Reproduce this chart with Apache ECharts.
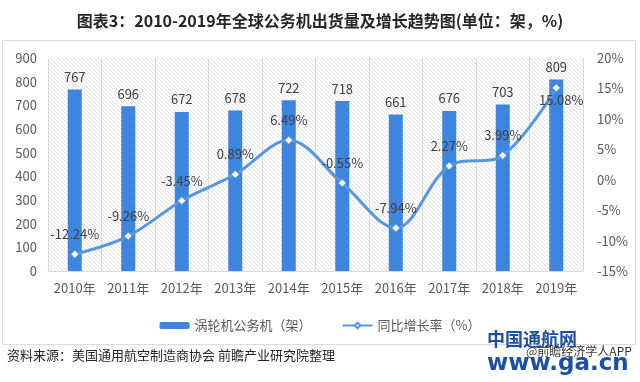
<!DOCTYPE html>
<html><head><meta charset="utf-8">
<script src="https://cdn.jsdelivr.net/npm/echarts@6/dist/echarts.min.js"></script>
<style>html,body{margin:0;padding:0;background:#fff}#c{width:640px;height:382px}</style>
</head><body><div id="c"></div>
<script>
const categories = ['2010年','2011年','2012年','2013年','2014年','2015年','2016年','2017年','2018年','2019年'];
const deliveries = [767, 696, 672, 678, 722, 718, 661, 676, 703, 809];
const growth = [-12.24, -9.26, -3.45, 0.89, 6.49, -0.55, -7.94, 2.27, 3.99, 15.08];
const leftTicks = [0, 900, 100];
const rightTicks = [-15, 20, 5];
const titleText = '图表3：2010-2019年全球公务机出货量及增长趋势图(单位：架，%)';
const sourceText = '资料来源：美国通用航空制造商协会 前瞻产业研究院整理';

const cv = document.createElement('canvas');
cv.width = 4; cv.height = 4;
const cx = cv.getContext('2d');
cx.fillStyle = '#ffffff'; cx.fillRect(0,0,4,4);
cx.fillStyle = '#e2e2e2';
for (let i = 0; i < 4; i++) cx.fillRect(i, i, 1, 1);

const chart = echarts.init(document.getElementById('c'), null, {renderer: 'canvas'});
const font = '"Noto Sans CJK SC", "Noto Sans", sans-serif';
chart.setOption({
  animation: false,
  textStyle: {fontFamily: font},
  title: {text: titleText, left: 'center', top: 8,
    textStyle: {fontSize: 16, fontWeight: 'bold', color: '#262626', fontFamily: font}},
  legend: {left: 'center', top: 314, itemWidth: 30, itemHeight: 7, itemGap: 30,
    textStyle: {fontSize: 13, color: '#595959'},
    data: [{name: '涡轮机公务机（架）'}, {name: '同比增长率（%）'}]},
  grid: {left: 48, right: 57, top: 58, bottom: 111, show: true, borderWidth: 0,
    backgroundColor: {image: cv, repeat: 'repeat'}},
  xAxis: {type: 'category', data: categories,
    axisLine: {lineStyle: {color: '#d9d9d9'}}, axisTick: {show: false},
    axisLabel: {color: '#595959', fontSize: 13, margin: 11, interval: 0},
    splitLine: {show: true, interval: 0, lineStyle: {color: '#d9d9d9'}}},
  yAxis: [
    {type: 'value', min: leftTicks[0], max: leftTicks[1], interval: leftTicks[2],
      axisLine: {show: false}, axisTick: {show: false}, splitLine: {show: false},
      axisLabel: {color: '#595959', fontSize: 13, margin: 11}},
    {type: 'value', min: rightTicks[0], max: rightTicks[1], interval: rightTicks[2],
      axisLine: {show: false}, axisTick: {show: false}, splitLine: {show: false},
      axisLabel: {color: '#595959', fontSize: 13, margin: 14, formatter: '{value}%'}}
  ],
  series: [
    {name: '涡轮机公务机（架）', type: 'bar', data: deliveries, barWidth: 14,
      itemStyle: {color: '#3d85de'},
      label: {show: true, position: 'top', distance: 6, color: '#404040', fontSize: 13}},
    {name: '同比增长率（%）', type: 'line', yAxisIndex: 1, smooth: 0.35,
      data: growth.map((v, i) => i === growth.length - 1
        ? {value: v, label: {position: 'bottom', distance: 1, offset: [5, 0]}} : v),
      lineStyle: {color: '#5797e2', width: 3},
      symbol: 'diamond', symbolSize: 8,
      itemStyle: {color: '#ffffff', borderColor: '#5797e2', borderWidth: 1},
      label: {show: true, position: 'top', distance: 9, color: '#404040', fontSize: 13,
        formatter: p => p.value.toFixed(2) + '%'}}
  ],
  graphic: [
    {type: 'rect', shape: {x: 2.5, y: 40.5, width: 633, height: 304}, silent: true,
      style: {fill: null, stroke: '#dcdcdc', lineWidth: 1}, z: -1},
    {type: 'text', left: 7, top: 349, style: {text: sourceText, fontSize: 13, fill: '#262626', fontFamily: font}},
    {type: 'text', left: 487, top: 330, style: {text: '中国通航网', fontSize: 18, fontWeight: 'bold', fill: '#1c4fa5', fontFamily: font}},
    {type: 'text', left: 487, top: 353, style: {text: 'www.ga.cn', fontSize: 23, fontWeight: 'bold', fill: '#1c4fa5', fontFamily: '"DejaVu Sans", sans-serif'}},
    {type: 'text', left: 526, top: 345, style: {text: '@前瞻经济学人APP', fontSize: 12, fill: '#333333', fontFamily: font}}
  ]
});
</script></body></html>
